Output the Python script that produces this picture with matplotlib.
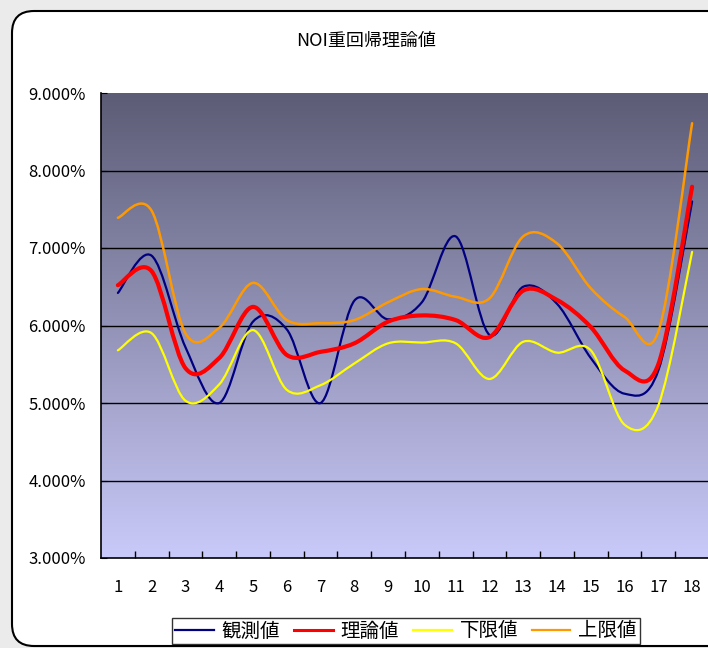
import numpy as np
import matplotlib.pyplot as plt
from matplotlib.path import Path
from matplotlib.patches import PathPatch, FancyBboxPatch
from matplotlib.lines import Line2D
from matplotlib.ticker import FuncFormatter, MultipleLocator

plt.rcParams['font.family'] = ['Noto Sans CJK JP', 'DejaVu Sans']

# period index and the four series (% values)
periods = list(range(1, 19))
observed = [6.42, 6.90, 5.72, 5.00, 6.05, 5.95, 5.00, 6.32, 6.08, 6.30, 7.15, 5.88, 6.50, 6.28, 5.58, 5.12, 5.42, 7.60]
theory = [6.52, 6.70, 5.45, 5.58, 6.24, 5.62, 5.66, 5.77, 6.05, 6.13, 6.07, 5.85, 6.45, 6.33, 5.98, 5.42, 5.50, 7.79]
lower = [5.68, 5.90, 5.03, 5.24, 5.94, 5.17, 5.23, 5.51, 5.77, 5.78, 5.77, 5.31, 5.79, 5.65, 5.68, 4.72, 4.97, 6.95]
upper = [7.39, 7.48, 5.90, 5.97, 6.55, 6.07, 6.03, 6.07, 6.30, 6.47, 6.37, 6.35, 7.15, 7.06, 6.48, 6.11, 5.92, 8.61]

names = ['観測値', '理論値', '下限値', '上限値']
colors = ['#000080', '#ff0000', '#ffff00', '#ff9900']
widths = [1.6, 3.0, 1.6, 1.8]


def smooth_path(x, y):
    # cubic bezier through every point, catmull-rom style control points
    p = np.column_stack([x, y]).astype(float)
    ext = np.vstack([p[0], p, p[-1]])
    verts = [p[0]]
    codes = [Path.MOVETO]
    for i in range(len(p) - 1):
        c1 = ext[i + 1] + (ext[i + 2] - ext[i]) / 6.0
        c2 = ext[i + 2] - (ext[i + 3] - ext[i + 1]) / 6.0
        verts += [c1, c2, p[i + 1]]
        codes += [Path.CURVE4] * 3
    return Path(verts, codes)


fig = plt.figure(figsize=(7.08, 6.48), dpi=100)
fig.patch.set_facecolor('#ebebeb')

frame = FancyBboxPatch((0.12, 0.02), 7.3, 6.35,
                       boxstyle='round,pad=0,rounding_size=0.22',
                       transform=fig.dpi_scale_trans,
                       facecolor='white', edgecolor='black', linewidth=1.5,
                       zorder=-5)
fig.patches.append(frame)

ax = fig.add_axes([101 / 708, 90 / 648, 608 / 708, 465 / 648])
ax.set_xlim(0.5, 18.5)
ax.set_ylim(3, 9)

# vertical gradient fill behind the plot
grad = np.linspace(0, 1, 256).reshape(-1, 1)
top = np.array([92, 92, 118]) / 255
bottom = np.array([202, 202, 250]) / 255
img = bottom + (top - bottom) * grad
ax.imshow(img[:, None, :].repeat(2, axis=1), extent=(0.5, 18.5, 3, 9),
          origin='lower', aspect='auto', zorder=0)

for v in range(4, 9):
    ax.axhline(v, color='black', linewidth=1.0, zorder=1)

for ys, c, w in zip([observed, theory, lower, upper], colors, widths):
    ax.add_patch(PathPatch(smooth_path(periods, ys), facecolor='none',
                           edgecolor=c, linewidth=w, zorder=3,
                           capstyle='round', joinstyle='round'))

for s in ['top', 'right']:
    ax.spines[s].set_visible(False)
ax.spines['left'].set_linewidth(1.2)
ax.spines['bottom'].set_linewidth(1.2)

ax.set_xticks(periods)
ax.set_xticks(np.arange(1.5, 18.5, 1), minor=True)
ax.tick_params(axis='x', which='major', length=0, pad=15, labelsize=12)
ax.tick_params(axis='x', which='minor', direction='in', length=5, width=1)
ax.yaxis.set_major_locator(MultipleLocator(1))
ax.yaxis.set_major_formatter(FuncFormatter(lambda v, _: f'{v:.3f}%'))
ax.tick_params(axis='y', direction='in', length=4, pad=11, labelsize=12)

fig.text(366 / 708, 1 - 41 / 648, 'NOI重回帰理論値', ha='center', va='center',
         fontsize=13)

handles = [Line2D([], [], color=c, linewidth=2.2 if c == '#ff0000' else 1.6)
           for c in colors]
leg = fig.legend(handles, names, loc='center', ncol=4,
                 bbox_to_anchor=(406 / 708, 1 - 631 / 648), fontsize=14,
                 frameon=True, fancybox=False, edgecolor='black',
                 handlelength=2.0, handletextpad=0.4, columnspacing=0.7,
                 borderpad=0.15, borderaxespad=0)
leg.get_frame().set_linewidth(1.0)

fig.savefig('out.png', dpi=100, facecolor=fig.get_facecolor())
